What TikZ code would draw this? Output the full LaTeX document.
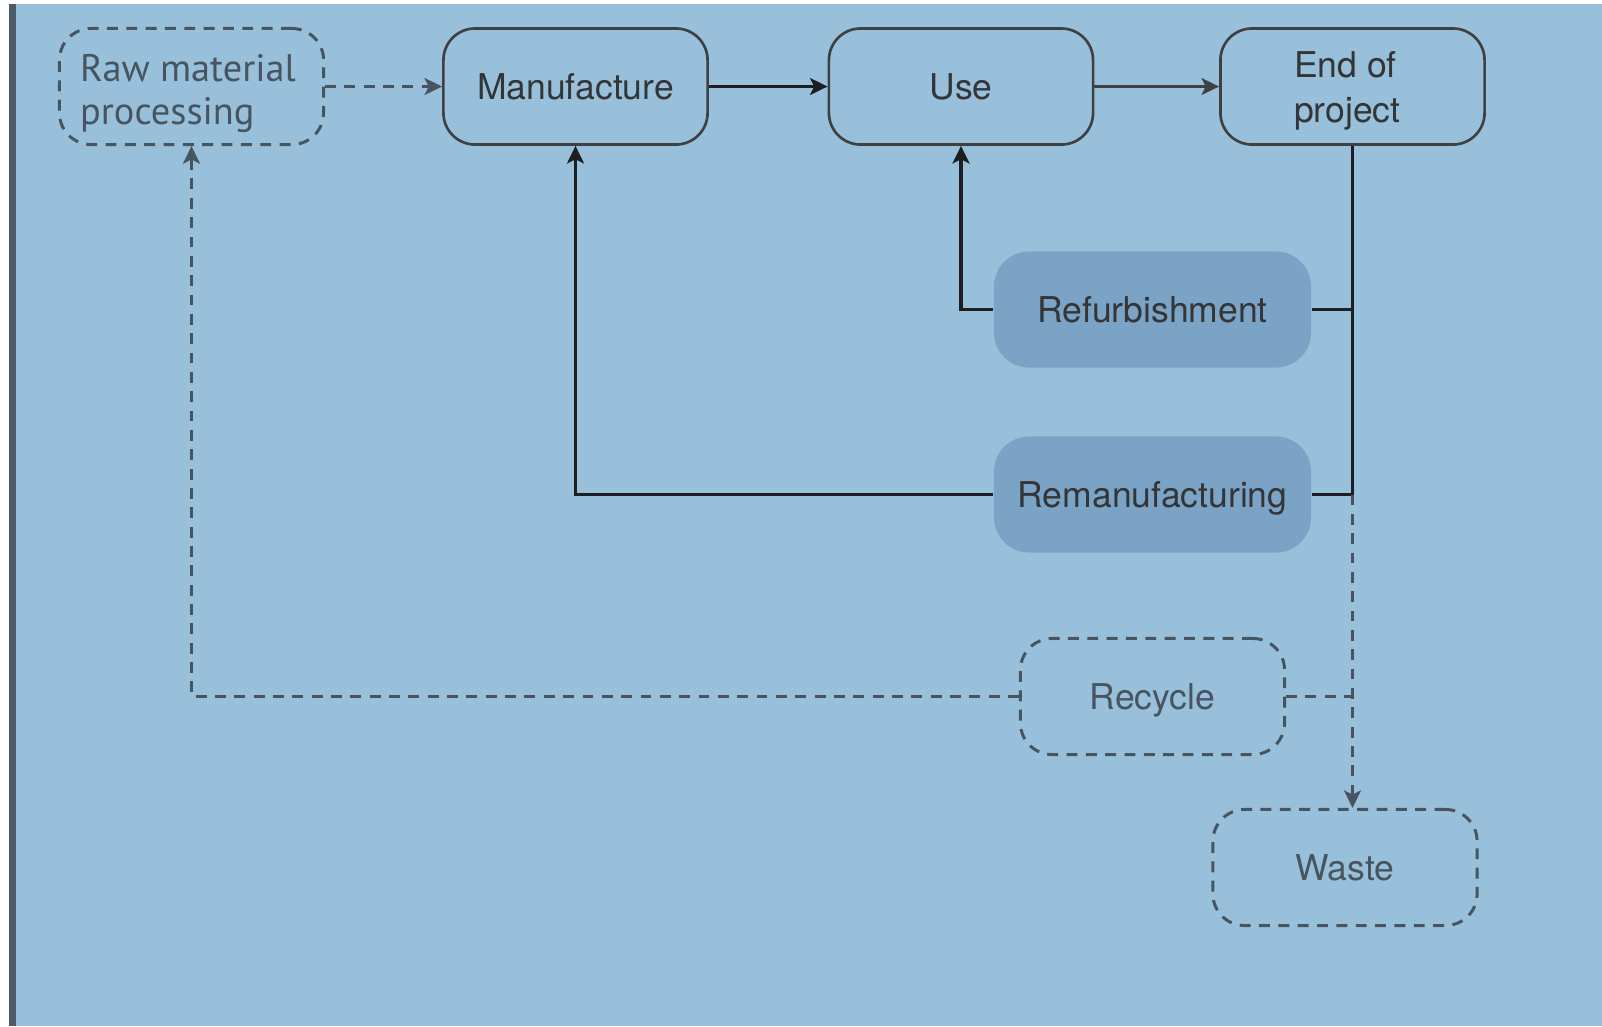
\documentclass[tikz,border=0pt]{standalone}
\usepackage{fontspec}
\setmainfont{TeX Gyre Heros}
\newfontfamily\rawfont{PT Sans}
\usepackage{tikz}
\usetikzlibrary{positioning,arrows.meta}

\definecolor{bgblue}{HTML}{99C0DA}
\definecolor{boxblue}{HTML}{7BA3C5}
\definecolor{barcol}{HTML}{4A5A66}
\definecolor{dashcol}{HTML}{46555F}
\definecolor{inkcol}{HTML}{1C1E21}

% two-line box text
\newcommand{\twoline}[3]{\raisebox{#1}{\begin{tabular}{@{}l@{}}#2\\#3\end{tabular}}}

\begin{document}
\begin{tikzpicture}[x=0.01cm,y=-0.01cm]
\tikzset{B/.style={rectangle,rounded corners=9pt,draw=inkcol!85,line width=0.75pt,
  minimum width=2.64cm,minimum height=1.16cm,text=inkcol!90,
  text height=7.3pt,text depth=0pt,font=\fontsize{10.1}{12.8}\selectfont}}
\tikzset{D/.style={B,draw=dashcol,dash pattern=on 3.1pt off 2.4pt,line width=0.85pt,text=dashcol}}
\tikzset{F/.style={B,draw=none,fill=boxblue,minimum width=3.17cm,rounded corners=10pt}}
\tikzset{A/.style={-{Stealth[length=5pt,width=4.8pt,inset=1.2pt]},line width=1.1pt,draw=inkcol}}
\tikzset{DA/.style={A,draw=dashcol,line width=0.85pt,dash pattern=on 3.1pt off 2.4pt}}

  % page and left bar
  \fill[white] (0,0) rectangle (1602,1026);
  \fill[bgblue] (16,4) rectangle (1602,1026);
  \fill[barcol] (9,4) rectangle (16,1026);

  \node[D,font=\rawfont\fontsize{10.9}{12.2}\selectfont] (raw) at (191.5,86.5)
    {\hspace*{-2pt}\twoline{-1.4pt}{Raw material}{processing}};
  \node[B] (manu)  at (575.5,86.5) {Manufacture};
  \node[B] (use)   at (961,86.5)   {Use};
  \node[B] (eop) at (1352.5,86.5) {\twoline{-0.2pt}{End of}{project}\hspace*{3pt}};

  \node[F] (refurb) at (1152.5,309.5) {Refurbishment};
  \node[F] (reman)  at (1152.5,494.5) {Remanufacturing};

  \node[D] (recyc) at (1152.5,696.5) {Recycle};
  \node[D] (waste) at (1345,867.5)   {Waste};

  \coordinate (j) at (eop.south |- reman.east);

  \draw[A] (manu) -- (use);
  \draw[A,line width=0.85pt,draw=inkcol!85] (use) -- (eop);
  \draw[DA] (raw) -- (manu);

  \draw[line width=1.1pt,draw=inkcol] (eop) -- (j);
  \draw[line width=1.1pt,draw=inkcol] (refurb.east) -- (refurb.east -| j);
  \draw[line width=1.1pt,draw=inkcol] (reman.east) -- (j);
  \draw[A] (refurb.west) -| (use.south);
  \draw[A] (reman.west) -| (manu.south);

  \draw[DA] (recyc.west) -| (raw.south);
  \draw[DA,-] (recyc.east) -- (recyc.east -| j);
  \draw[DA] (j) -- (j |- waste.north);
\end{tikzpicture}
\end{document}
